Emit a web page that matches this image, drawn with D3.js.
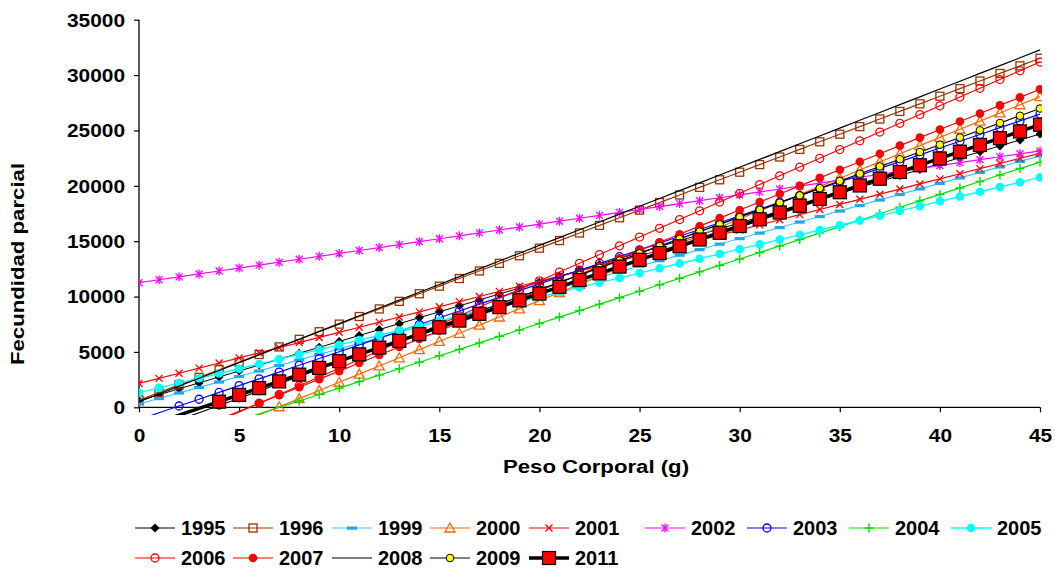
<!DOCTYPE html>
<html><head><meta charset="utf-8">
<script src="https://cdn.jsdelivr.net/npm/d3@7/dist/d3.min.js"></script>
<style>
body{margin:0;background:#fff}
svg{display:block}
text{font-family:"Liberation Sans",Arial,sans-serif;font-weight:bold;fill:#000}
</style>
</head><body>
<svg id="c" width="1055" height="571"></svg>
<script>
const pesos = [0,1,2,3,4,5,6,7,8,9,10,11,12,13,14,15,16,17,18,19,20,21,22,23,24,25,26,27,28,29,30,31,32,33,34,35,36,37,38,39,40,41,42,43,44,45];
const xTicks = [0,5,10,15,20,25,30,35,40,45];
const yTicks = [0,5000,10000,15000,20000,25000,30000,35000];

const s1995 = [600,1135,1670,2205,2740,3275,3810,4345,4880,5415,5950,6485,7020,7555,8090,8625,9160,9695,10230,10765,11300,11835,12370,12905,13440,13975,14510,15045,15580,16115,16650,17185,17720,18255,18790,19325,19860,20395,20930,21465,22000,22535,23070,23605,24140,24675];
const s1996 = [650,1336,2022,2708,3394,4080,4766,5452,6138,6824,7510,8196,8882,9568,10254,10940,11626,12312,12998,13684,14370,15056,15742,16428,17114,17800,18486,19172,19858,20544,21230,21916,22602,23288,23974,24660,25346,26032,26718,27404,28090,28776,29462,30148,30834,31520];
const s1999 = [300,798,1296,1794,2292,2790,3288,3786,4284,4782,5280,5778,6276,6774,7272,7770,8268,8766,9264,9762,10260,10758,11256,11754,12252,12750,13248,13746,14244,14742,15240,15738,16236,16734,17232,17730,18228,18726,19224,19722,20220,20718,21216,21714,22212,22710];
const s2000 = [-5110,-4373,-3636,-2899,-2162,-1425,-688,49,786,1523,2260,2997,3734,4471,5208,5945,6682,7419,8156,8893,9630,10367,11104,11841,12578,13315,14052,14789,15526,16263,17000,17737,18474,19211,19948,20685,21422,22159,22896,23633,24370,25107,25844,26581,27318,28055];
const s2001 = [2150,2612,3074,3536,3998,4460,4922,5384,5846,6308,6770,7232,7694,8156,8618,9080,9542,10004,10466,10928,11390,11852,12314,12776,13238,13700,14162,14624,15086,15548,16010,16472,16934,17396,17858,18320,18782,19244,19706,20168,20630,21092,21554,22016,22478,22940];
const s2002 = [11250,11515,11779,12044,12308,12573,12837,13102,13366,13631,13895,14160,14424,14689,14953,15218,15482,15747,16011,16276,16540,16805,17069,17334,17598,17863,18127,18392,18656,18921,19185,19450,19714,19979,20243,20508,20772,21037,21301,21566,21830,22095,22359,22624,22888,23153];
const s2003 = [-1110,-497,116,729,1342,1955,2568,3181,3794,4407,5020,5633,6246,6859,7472,8085,8698,9311,9924,10537,11150,11763,12376,12989,13602,14215,14828,15441,16054,16667,17280,17893,18506,19119,19732,20345,20958,21571,22184,22797,23410,24023,24636,25249,25862,26475];
const s2004 = [-4094,-3511,-2928,-2345,-1762,-1179,-596,-13,570,1153,1736,2319,2902,3485,4068,4651,5234,5817,6400,6983,7566,8149,8732,9315,9898,10481,11064,11647,12230,12813,13396,13979,14562,15145,15728,16311,16894,17477,18060,18643,19226,19809,20392,20975,21558,22141];
const s2005 = [1320,1752,2184,2616,3048,3480,3912,4344,4776,5208,5640,6072,6504,6936,7368,7800,8232,8664,9096,9528,9960,10392,10824,11256,11688,12120,12552,12984,13416,13848,14280,14712,15144,15576,16008,16440,16872,17304,17736,18168,18600,19032,19464,19896,20328,20760];
const s2006 = [-4375,-3585,-2795,-2005,-1215,-425,365,1155,1945,2735,3525,4315,5105,5895,6685,7475,8265,9055,9845,10635,11425,12215,13005,13795,14585,15375,16165,16955,17745,18535,19325,20115,20905,21695,22485,23275,24065,24855,25645,26435,27225,28015,28805,29595,30385,31175];
const s2007 = [-4000,-3273,-2546,-1819,-1092,-365,362,1089,1816,2543,3270,3997,4724,5451,6178,6905,7632,8359,9086,9813,10540,11267,11994,12721,13448,14175,14902,15629,16356,17083,17810,18537,19264,19991,20718,21445,22172,22899,23626,24353,25080,25807,26534,27261,27988,28715];
const s2008 = [500,1206,1912,2618,3324,4030,4736,5442,6148,6854,7560,8266,8972,9678,10384,11090,11796,12502,13208,13914,14620,15326,16032,16738,17444,18150,18856,19562,20268,20974,21680,22386,23092,23798,24504,25210,25916,26622,27328,28034,28740,29446,30152,30858,31564,32270];
const s2009 = [-2450,-1796,-1142,-488,166,820,1474,2128,2782,3436,4090,4744,5398,6052,6706,7360,8014,8668,9322,9976,10630,11284,11938,12592,13246,13900,14554,15208,15862,16516,17170,17824,18478,19132,19786,20440,21094,21748,22402,23056,23710,24364,25018,25672,26326,26980];
const s2011 = [-1930,-1320,-710,-100,510,1120,1730,2340,2950,3560,4170,4780,5390,6000,6610,7220,7830,8440,9050,9660,10270,10880,11490,12100,12710,13320,13930,14540,15150,15760,16370,16980,17590,18200,18810,19420,20030,20640,21250,21860,22470,23080,23690,24300,24910,25520];

const seriesNames = ["1995","1996","1999","2000","2001","2002","2003","2004","2005","2006","2007","2008","2009","2011"];
const seriesValues = [s1995,s1996,s1999,s2000,s2001,s2002,s2003,s2004,s2005,s2006,s2007,s2008,s2009,s2011];

const styles = {
  "1995":{line:"#000000",lw:1,marker:"diamond",fill:"#000000",stroke:"#000000"},
  "1996":{line:"#993300",lw:1.2,marker:"square",fill:"none",stroke:"#993300"},
  "1999":{line:"#33CCFF",lw:1.2,marker:"dash",fill:"#1FA8EC",stroke:"none"},
  "2000":{line:"#FF6600",lw:1.2,marker:"triangle",fill:"none",stroke:"#FF6600"},
  "2001":{line:"#FF0000",lw:1.2,marker:"x",fill:"none",stroke:"#FF0000"},
  "2002":{line:"#FF00FF",lw:1.2,marker:"star",fill:"none",stroke:"#FF00FF"},
  "2003":{line:"#0000FF",lw:1.2,marker:"circle",fill:"none",stroke:"#0000FF"},
  "2004":{line:"#00E000",lw:1.2,marker:"plus",fill:"none",stroke:"#00E000"},
  "2005":{line:"#00FFFF",lw:1.4,marker:"dot",fill:"#00FFFF",stroke:"#00FFFF"},
  "2006":{line:"#FF0000",lw:1.2,marker:"circle",fill:"none",stroke:"#FF0000"},
  "2007":{line:"#FF0000",lw:1.2,marker:"dot",fill:"#FF0000",stroke:"#FF0000"},
  "2008":{line:"#000000",lw:1.2,marker:"none"},
  "2009":{line:"#000000",lw:1.2,marker:"ydot",fill:"#FFFF00",stroke:"#000000"},
  "2011":{line:"#000000",lw:3.5,marker:"bigsquare",fill:"#FF0000",stroke:"#000000"}
};

const svg = d3.select("#c");
const x = d3.scaleLinear().domain([0,45]).range([139,1040]);
const y = d3.scaleLinear().domain([0,35000]).range([407.3,19.7]);

svg.append("defs").append("clipPath").attr("id","plotclip")
  .append("rect").attr("x",139).attr("y",10).attr("width",1040-139+2).attr("height",415-10);

function drawMarker(g, type, cx, cy, st){
  switch(type){
    case "diamond":
      g.append("path").attr("d",`M${cx},${cy-4.5}L${cx+4.5},${cy}L${cx},${cy+4.5}L${cx-4.5},${cy}Z`).attr("fill",st.fill);break;
    case "square":
      g.append("rect").attr("x",cx-4).attr("y",cy-4).attr("width",8).attr("height",8).attr("fill","none").attr("stroke",st.stroke).attr("stroke-width",1.3);break;
    case "dash":
      g.append("rect").attr("x",cx-5).attr("y",cy-1.5).attr("width",10).attr("height",3.2).attr("fill",st.fill);break;
    case "triangle":
      g.append("path").attr("d",`M${cx},${cy-5}L${cx+5},${cy+4}L${cx-5},${cy+4}Z`).attr("fill","none").attr("stroke",st.stroke).attr("stroke-width",1.3);break;
    case "x":
      g.append("path").attr("d",`M${cx-3.5},${cy-3.5}L${cx+3.5},${cy+3.5}M${cx+3.5},${cy-3.5}L${cx-3.5},${cy+3.5}`).attr("stroke",st.stroke).attr("stroke-width",1.3);break;
    case "star":
      g.append("path").attr("d",`M${cx-3.5},${cy-3.5}L${cx+3.5},${cy+3.5}M${cx+3.5},${cy-3.5}L${cx-3.5},${cy+3.5}M${cx},${cy-4.5}L${cx},${cy+4.5}`).attr("stroke",st.stroke).attr("stroke-width",1.3);break;
    case "plus":
      g.append("path").attr("d",`M${cx-4.5},${cy}L${cx+4.5},${cy}M${cx},${cy-4.5}L${cx},${cy+4.5}`).attr("stroke",st.stroke).attr("stroke-width",1.4);break;
    case "circle":
      g.append("circle").attr("cx",cx).attr("cy",cy).attr("r",4).attr("fill","none").attr("stroke",st.stroke).attr("stroke-width",1.3);break;
    case "dot":
      g.append("circle").attr("cx",cx).attr("cy",cy).attr("r",4.3).attr("fill",st.fill);break;
    case "ydot":
      g.append("circle").attr("cx",cx).attr("cy",cy).attr("r",3.8).attr("fill",st.fill).attr("stroke",st.stroke).attr("stroke-width",1);break;
    case "bigsquare":
      g.append("rect").attr("x",cx-6.5).attr("y",cy-6.5).attr("width",13).attr("height",13).attr("fill",st.fill).attr("stroke",st.stroke).attr("stroke-width",1.2);break;
  }
}

const SX = 1.16; // horizontal stretch of the original chart text

// axes
const yAxis = d3.axisLeft(y).tickValues(yTicks).tickSize(5).tickPadding(9).tickFormat(d3.format("d"));
const gy = svg.append("g").attr("transform","translate(139,0)").call(yAxis);
gy.select(".domain").attr("stroke","#000").attr("stroke-width",1.3).attr("d",`M0,${y(35000)}V${y(0)}`);
gy.selectAll(".tick line").attr("stroke","#000").attr("stroke-width",1.2);
gy.selectAll("text").style("font-size","18px").attr("dy","0.35em")
  .attr("transform",`translate(-14,0) scale(${SX},1)`).attr("x",0);

const xAxis = d3.axisBottom(x).tickValues(xTicks).tickSize(5).tickPadding(17);
const gx = svg.append("g").attr("transform",`translate(0,${y(0)})`).call(xAxis);
gx.select(".domain").attr("stroke","#000").attr("stroke-width",1.3).attr("d",`M${x(0)},0H${x(45)}`);
gx.selectAll(".tick line").attr("stroke","#000").attr("stroke-width",1.2);
gx.selectAll("text").style("font-size","18px").attr("transform",`scale(${SX},1)`);

// series
const plot = svg.append("g").attr("clip-path","url(#plotclip)");
const line = d3.line().x((d,i)=>x(pesos[i])).y(d=>y(d));
seriesNames.forEach((name,k)=>{
  const st = styles[name];
  const vals = seriesValues[k];
  const g = plot.append("g");
  g.append("path").datum(vals).attr("d",line).attr("fill","none").attr("stroke",st.line).attr("stroke-width",st.lw).attr("stroke-linejoin","round");
  if(st.marker!=="none"){
    vals.forEach((v,i)=>{ if(v>=0) drawMarker(g, st.marker, x(pesos[i]), y(v), st); });
  }
});

// axis titles
svg.append("text").attr("transform","translate(24,264) rotate(-90) scale(1.2,1)").attr("text-anchor","middle").style("font-size","18.5px").text("Fecundidad parcial");
svg.append("text").attr("transform","translate(596,473) scale(1.2,1)").attr("text-anchor","middle").style("font-size","18.5px").text("Peso Corporal (g)");

// legend
const legX = [135,233,332,430,529,645,747,849,951];
const legY = [528,558];
seriesNames.forEach((name,k)=>{
  const row = k<9?0:1, col = k<9?k:k-9;
  const lx = legX[col], ly = legY[row];
  const st = styles[name];
  const g = svg.append("g");
  g.append("line").attr("x1",lx).attr("x2",lx+40).attr("y1",ly).attr("y2",ly).attr("stroke",st.line).attr("stroke-width",st.lw);
  if(st.marker!=="none") drawMarker(g, st.marker, lx+20, ly, st);
  g.append("text").attr("x",lx+46).attr("y",ly).attr("dy","0.36em").style("font-size","20px").text(name);
});
</script>
</body></html>
